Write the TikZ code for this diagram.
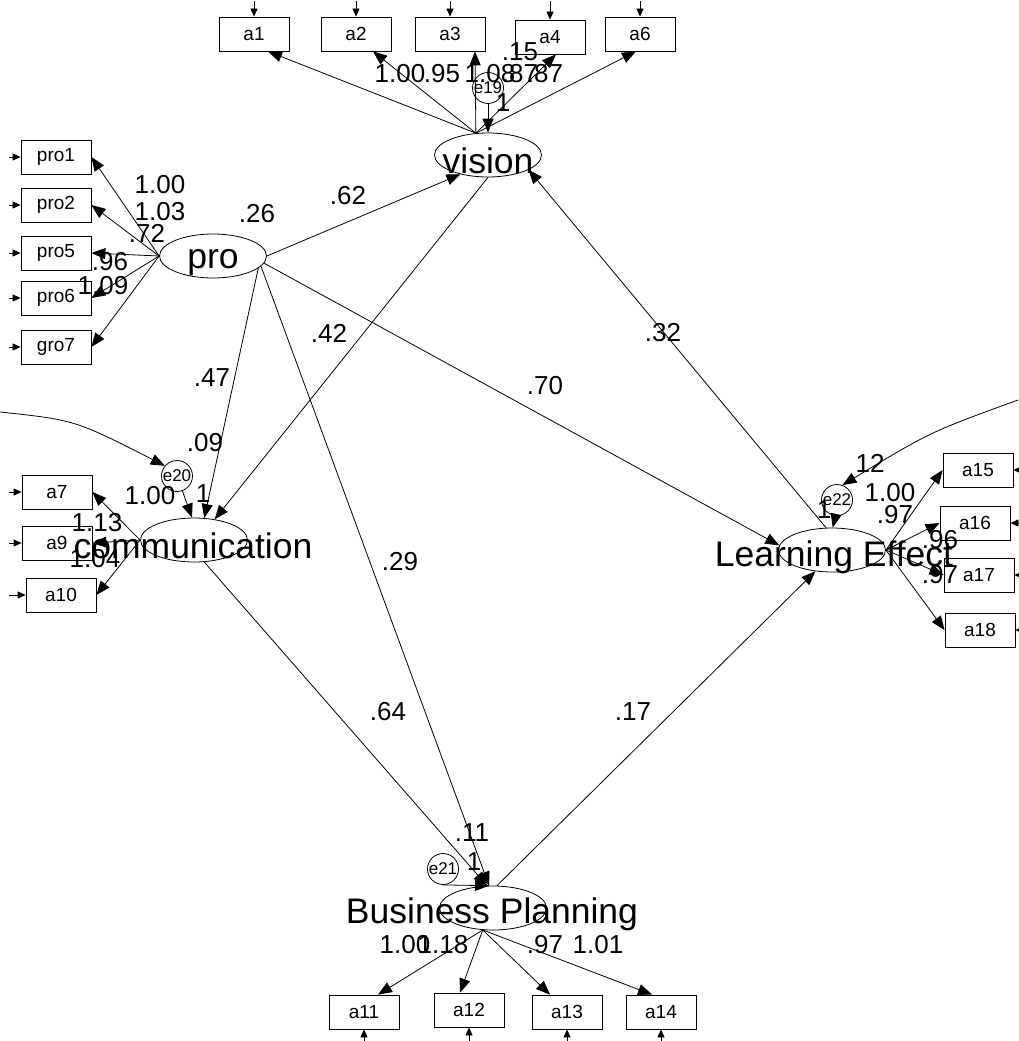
\documentclass[tikz,border=0pt]{standalone}
\usepackage{fontspec}
\setmainfont{Liberation Sans}
\usetikzlibrary{arrows.meta,shapes.geometric,calc}
\begin{document}
\begin{tikzpicture}[x=1pt,y=-1pt,
 lw/.style={line width=0.8pt},
 box/.style={draw,lw,minimum width=70pt,minimum height=34pt,inner sep=0pt,font=\fontsize{19}{19}\selectfont},
 lat/.style={draw,lw,ellipse,minimum width=107pt,minimum height=44pt,inner sep=0pt},
 err/.style={draw,lw,circle,minimum size=31pt,inner sep=0pt,font=\fontsize{17}{17}\selectfont},
 lbl/.style={font=\fontsize{26}{26}\selectfont,inner sep=0pt},
 lattxt/.style={font=\fontsize{35.5}{35.5}\selectfont,inner sep=0pt,anchor=base},
 pth/.style={lw,-{Triangle[length=14pt,width=11pt]}},
 smallarr/.style={lw,-{Triangle[length=8pt,width=7pt]}},
]
\useasboundingbox (0,0) rectangle (1018,1041);
\fill[white] (0,0) rectangle (1018,1041);

% latent ellipses
\node[lat] (vision) at (488,155) {};
\node[lat] (pro) at (213,256) {};
\node[lat] (comm) at (194,540) {};
\node[lat] (LE) at (832,550) {};
\node[lat] (BP) at (493,908) {};

% error circles
\node[err] (e19) at (488,88) {e19};
\node[err] (e20) at (177,476) {e20};
\node[err] (e22) at (837,500) {e22};
\node[err] (e21) at (443,869) {e21};

% observed boxes
\node[box] (a1) at (254,34) {a1};
\node[box] (a2) at (356,34) {a2};
\node[box] (a3) at (450,34) {a3};
\node[box] (a4) at (550,37) {a4};
\node[box] (a6) at (640,34) {a6};

\node[box] (pro1) at (56,157) {pro1};
\node[box] (pro2) at (56,205) {pro2};
\node[box] (pro5) at (56,253) {pro5};
\node[box] (pro6) at (56,298) {pro6};
\node[box] (gro7) at (56,347) {gro7};

\node[box] (a7) at (57,492) {a7};
\node[box] (a9) at (57,543) {a9};
\node[box] (a10) at (61,595) {a10};

\node[box] (a15) at (978,470) {a15};
\node[box] (a16) at (975,523) {a16};
\node[box] (a17) at (979,575) {a17};
\node[box] (a18) at (980,630) {a18};

\node[box] (a11) at (364,1012) {a11};
\node[box] (a12) at (469,1010) {a12};
\node[box] (a13) at (567,1012) {a13};
\node[box] (a14) at (661,1012) {a14};

% incoming error arrows from outside
\foreach \n in {a1,a2,a3,a4,a6}{
  \coordinate (\n-src) at (\n.north |- 0,1);
  \draw[smallarr] (\n-src) -- (\n.north);
}
\foreach \n in {pro1,pro2,pro5,pro6,gro7,a7,a9,a10}{
  \coordinate (\n-src) at (\n.west -| 9,0);
  \draw[smallarr] (\n-src) -- (\n.west);
}
\foreach \n in {a15,a16,a17,a18}{
  \coordinate (\n-src) at (\n.east -| 1018,0);
  \draw[smallarr] (\n-src) -- (\n.east);
}
\foreach \n in {a11,a12,a13,a14}{
  \coordinate (\n-src) at (\n.south |- 0,1041);
  \draw[smallarr] (\n-src) -- (\n.south);
}

% vision loadings
\draw[pth] (vision.119) -- ($(a1.south)+(14,0)$);
\draw[pth] (vision.119) -- ($(a2.south)+(17,0)$);
\draw[pth] (vision.119) -- ($(a3.south)+(25,0)$);
\draw[pth] (vision.119) -- ($(a4.south)+(6,0)$);
\draw[pth] (vision.119) -- ($(a6.south)+(-4,0)$);
\draw[pth] (e19.south) -- (vision.north);

% pro loadings
\foreach \n in {pro1,pro2,pro5,pro6,gro7}{ \draw[pth] (pro.west) -- (\n.east); }

% communication loadings
\foreach \n in {a7,a9,a10}{ \draw[pth] (comm.west) -- (\n.east); }
\draw[pth] (e20.-70) -- (comm.95);

% learning effect loadings
\foreach \n in {a15,a16,a17,a18}{ \draw[pth] (LE.east) -- (\n.west); }
\draw[pth] (e22.-95) -- (LE.88);

% business planning loadings
\draw[pth] (BP.245) -- ($(a11.north)+(14,0)$);
\draw[pth] (BP.245) -- ($(a12.north)+(-9,0)$);
\draw[pth] (BP.245) -- ($(a13.north)+(-17,0)$);
\draw[pth] (BP.245) -- ($(a14.north)+(-9,0)$);
\draw[pth] (e21.south) -- (BP.100);

% structural paths
\draw[pth] (pro.east) -- (vision.215);
\draw[pth] (vision.south) -- (comm.45);
\draw[pth] (pro.-15) -- (comm.65);
\draw[pth] (pro.-12) -- (BP.100);
\draw[pth] (pro.-8) -- (LE.175);
\draw[pth] (comm.-65) -- (BP.105);
\draw[pth] (BP.80) -- (LE.232);
\draw[pth] (LE.105) -- (vision.-20);

% covariance arcs from outside
\coordinate (lsrc) at (0,412);
\draw[pth] (lsrc) .. controls (75,420) .. (e20.140);
\coordinate (rsrc) at (1018,400);
\draw[pth] (rsrc) .. controls (930,432) .. (e22.70);

% latent texts
\node[lattxt] (visiontxt) at (488,173) {vision};
\node[lattxt] (protxt) at (213,268) {pro};
\node[lattxt] (commtxt) at (193,558) {communication};
\node[lattxt] (LEtxt) at (834,566) {Learning Effect};
\node[lattxt] (BPtxt) at (492,923) {Business Planning};

% labels: vision
\node[lbl] (l1) at (400,74) {1.00};
\node[lbl] (l2) at (442,74) {.95};
\node[lbl] (l3) at (490,74) {1.08};
\node[lbl] (l4) at (520,74) {.87};
\node[lbl] (l5) at (545,74) {.87};
\node[lbl] (l6) at (520,52) {.15};
\node[lbl] (l7) at (503,103) {1};
% labels: pro
\node[lbl] (l8) at (160,185) {1.00};
\node[lbl] (l9) at (160,212) {1.03};
\node[lbl] (l10) at (147,233) {.72};
\node[lbl] (l11) at (110,262) {.96};
\node[lbl] (l12) at (103,286) {1.09};
\node[lbl] (l13) at (257,214) {.26};
% structural labels
\node[lbl] (l14) at (348,196) {.62};
\node[lbl] (l15) at (329,333) {.42};
\node[lbl] (l16) at (212,378) {.47};
\node[lbl] (l17) at (545,386) {.70};
\node[lbl] (l18) at (663,333) {.32};
\node[lbl] (l19) at (400,562) {.29};
\node[lbl] (l20) at (388,712) {.64};
\node[lbl] (l21) at (633,712) {.17};
% communication labels
\node[lbl] (l22) at (205,443) {.09};
\node[lbl] (l23) at (150,496) {1.00};
\node[lbl] (l24) at (203,494) {1};
\node[lbl] (l25) at (97,523) {1.13};
\node[lbl] (l26) at (95,559) {1.04};
% learning effect labels
\node[lbl] (l27) at (870,463) {12};
\node[lbl] (l28) at (890,493) {1.00};
\node[lbl] (l29) at (895,515) {.97};
\node[lbl] (l30) at (824,510) {1};
\node[lbl] (l31) at (940,540) {.96};
\node[lbl] (l32) at (940,575) {.97};
% business planning labels
\node[lbl] (l33) at (472,833) {.11};
\node[lbl] (l34) at (474,862) {1};
\node[lbl] (l35) at (405,945) {1.00};
\node[lbl] (l36) at (443,945) {1.18};
\node[lbl] (l37) at (545,945) {.97};
\node[lbl] (l38) at (598,945) {1.01};
\end{tikzpicture}
\end{document}
